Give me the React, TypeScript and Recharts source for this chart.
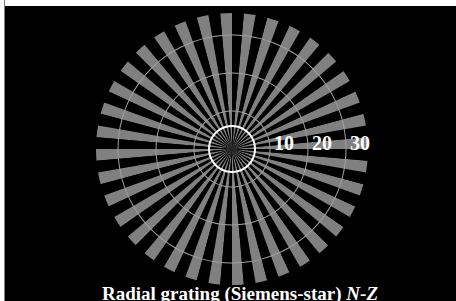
import { PieChart, Pie, Cell } from "recharts";

// 36 light spokes + 36 dark gaps, equal angular width
const sectors = [
  1, 1, 1, 1, 1, 1, 1, 1, 1, 1, 1, 1, 1, 1, 1, 1, 1, 1,
  1, 1, 1, 1, 1, 1, 1, 1, 1, 1, 1, 1, 1, 1, 1, 1, 1, 1,
  1, 1, 1, 1, 1, 1, 1, 1, 1, 1, 1, 1, 1, 1, 1, 1, 1, 1,
  1, 1, 1, 1, 1, 1, 1, 1, 1, 1, 1, 1, 1, 1, 1, 1, 1, 1,
];
const starData = sectors.map((v, i) => ({ name: `s${i}`, value: v }));

const rings = [10, 20, 30];
const ringLabels = ["10", "20", "30"];
const ringData = [{ name: "ring", value: 1 }];

const CX = 232;
const CY = 149;
const OUTER = 136;
const PX_PER_UNIT = 3.8;
const INNER_CIRCLE = 23;

const font = '"Liberation Serif", "DejaVu Serif", serif';

export default function App() {
  return (
    <div
      style={{
        position: "absolute",
        left: 0,
        top: 0,
        width: 456,
        height: 301,
        background: "#fff",
        overflow: "hidden",
      }}
    >
      <div
        style={{
          position: "absolute",
          left: 4,
          top: 0,
          width: 1,
          height: 301,
          background: "#808080",
        }}
      />
      <div
        style={{
          position: "absolute",
          left: 5,
          top: 6,
          width: 451,
          height: 295,
          background: "#000",
        }}
      />
      <div style={{ position: "absolute", left: 0, top: 0 }}>
        <PieChart width={456} height={301} margin={{ top: 0, right: 0, bottom: 0, left: 0 }}>
          <Pie
            data={starData}
            dataKey="value"
            cx={CX}
            cy={CY}
            innerRadius={0}
            outerRadius={OUTER}
            startAngle={0}
            endAngle={360}
            stroke="none"
            isAnimationActive={false}
          >
            {starData.map((d, i) => (
              <Cell key={d.name} fill={i % 2 === 0 ? "#808080" : "#000"} />
            ))}
          </Pie>
          {rings.map((r) => (
            <Pie
              key={`ring-${r}`}
              data={ringData}
              dataKey="value"
              cx={CX}
              cy={CY}
              innerRadius={r * PX_PER_UNIT - 0.5}
              outerRadius={r * PX_PER_UNIT + 0.5}
              startAngle={0}
              endAngle={360}
              fill="#a0a0a0"
              stroke="none"
              isAnimationActive={false}
            />
          ))}
          <Pie
            data={ringData}
            dataKey="value"
            cx={CX}
            cy={CY}
            innerRadius={INNER_CIRCLE - 1}
            outerRadius={INNER_CIRCLE + 1}
            startAngle={0}
            endAngle={360}
            fill="#fff"
            stroke="none"
            isAnimationActive={false}
          />
        </PieChart>
      </div>
      {/* labels on top of the star */}
      <svg
        width={456}
        height={301}
        style={{ position: "absolute", left: 0, top: 0, pointerEvents: "none" }}
      >
        {rings.map((r, i) => (
          <text
            key={`lbl-${r}`}
            x={CX + r * PX_PER_UNIT + 4}
            y={CY + 1}
            fill="#fff"
            fontFamily={font}
            fontWeight="bold"
            fontSize={20}
            textAnchor="start"
          >
            {ringLabels[i]}
          </text>
        ))}
        <text
          x={240}
          y={300}
          fill="#fff"
          fontFamily={font}
          fontWeight="bold"
          fontSize={19}
          textAnchor="middle"
        >
          Radial grating (Siemens-star) <tspan fontStyle="italic">N</tspan>-<tspan fontStyle="italic">Z</tspan>
        </text>
      </svg>
    </div>
  );
}
